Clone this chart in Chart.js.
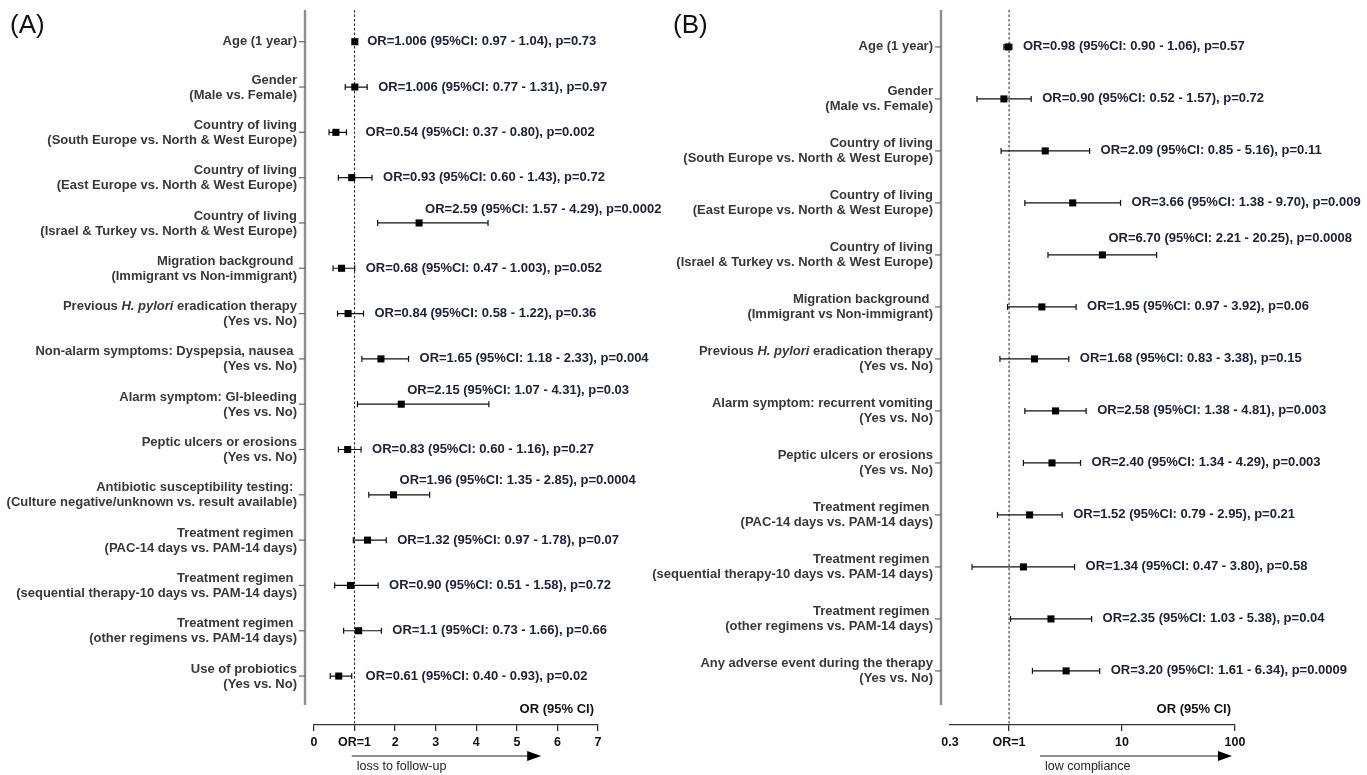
<!DOCTYPE html>
<html>
<head>
<meta charset="utf-8">
<script src="https://cdn.jsdelivr.net/npm/chart.js@4.4.0/dist/chart.umd.min.js"></script>
<style>
    html, body { margin: 0; padding: 0; background: #fff; }
    #wrapA { position: absolute; left: 0; top: 0; width: 670px; height: 775px; }
    #wrapB { position: absolute; left: 640px; top: 0; width: 727px; height: 775px; }
</style>
</head>
<body>
<div id="wrapA"><canvas id="chartA"></canvas></div>
<div id="wrapB"><canvas id="chartB"></canvas></div>
<script>
// ---- panel A: loss to follow-up ----
const labelsA = [
    ["Age (1 year)"],
    ["Gender", "(Male vs. Female)"],
    ["Country of living", "(South Europe vs. North & West Europe)"],
    ["Country of living", "(East Europe vs. North & West Europe)"],
    ["Country of living", "(Israel & Turkey vs. North & West Europe)"],
    ["Migration background ", "(Immigrant vs Non-immigrant)"],
    ["Previous *H. pylori* eradication therapy", "(Yes vs. No)"],
    ["Non-alarm symptoms: Dyspepsia, nausea ", "(Yes vs. No)"],
    ["Alarm symptom: GI-bleeding", "(Yes vs. No)"],
    ["Peptic ulcers or erosions", "(Yes vs. No)"],
    ["Antibiotic susceptibility testing: ", "(Culture negative/unknown vs. result available)"],
    ["Treatment regimen ", "(PAC-14 days vs. PAM-14 days)"],
    ["Treatment regimen ", "(sequential therapy-10 days vs. PAM-14 days)"],
    ["Treatment regimen ", "(other regimens vs. PAM-14 days)"],
    ["Use of probiotics", "(Yes vs. No)"],
];
const orA = ["1.006", "1.006", "0.54", "0.93", "2.59", "0.68", "0.84", "1.65", "2.15", "0.83", "1.96", "1.32", "0.90", "1.1", "0.61"];
const loA = ["0.97", "0.77", "0.37", "0.60", "1.57", "0.47", "0.58", "1.18", "1.07", "0.60", "1.35", "0.97", "0.51", "0.73", "0.40"];
const hiA = ["1.04", "1.31", "0.80", "1.43", "4.29", "1.003", "1.22", "2.33", "4.31", "1.16", "2.85", "1.78", "1.58", "1.66", "0.93"];
const pA = ["0.73", "0.97", "0.002", "0.72", "0.0002", "0.052", "0.36", "0.004", "0.03", "0.27", "0.0004", "0.07", "0.72", "0.66", "0.02"];
const aboveA = [4, 8, 10];
const xTicksA = [0, 1, 2, 3, 4, 5, 6, 7];

// ---- panel B: low compliance ----
const labelsB = [
    ["Age (1 year)"],
    ["Gender", "(Male vs. Female)"],
    ["Country of living", "(South Europe vs. North & West Europe)"],
    ["Country of living", "(East Europe vs. North & West Europe)"],
    ["Country of living", "(Israel & Turkey vs. North & West Europe)"],
    ["Migration background ", "(Immigrant vs Non-immigrant)"],
    ["Previous *H. pylori* eradication therapy", "(Yes vs. No)"],
    ["Alarm symptom: recurrent vomiting", "(Yes vs. No)"],
    ["Peptic ulcers or erosions", "(Yes vs. No)"],
    ["Treatment regimen ", "(PAC-14 days vs. PAM-14 days)"],
    ["Treatment regimen ", "(sequential therapy-10 days vs. PAM-14 days)"],
    ["Treatment regimen ", "(other regimens vs. PAM-14 days)"],
    ["Any adverse event during the therapy", "(Yes vs. No)"],
];
const orB = ["0.98", "0.90", "2.09", "3.66", "6.70", "1.95", "1.68", "2.58", "2.40", "1.52", "1.34", "2.35", "3.20"];
const loB = ["0.90", "0.52", "0.85", "1.38", "2.21", "0.97", "0.83", "1.38", "1.34", "0.79", "0.47", "1.03", "1.61"];
const hiB = ["1.06", "1.57", "5.16", "9.70", "20.25", "3.92", "3.38", "4.81", "4.29", "2.95", "3.80", "5.38", "6.34"];
const pB = ["0.57", "0.72", "0.11", "0.009", "0.0008", "0.06", "0.15", "0.003", "0.003", "0.21", "0.58", "0.04", "0.0009"];
const aboveB = [4];
const xTicksB = [0.3, 1, 10, 100];

const FONT = "'Liberation Sans', Arial, Helvetica, sans-serif";
const INK = "#111";
const NOTE = "#20213f";
const LABEL = "#383838";


function buildDatasets(or, lo, hi) {
    // one broken line for all confidence intervals, split by null points
    const bars = [];
    or.forEach((v, i) => {
        bars.push({ x: +lo[i], y: i }, { x: +hi[i], y: i }, { x: +hi[i], y: null });
    });
    const caps = lo.map((v, i) => ({ x: +v, y: i })).concat(hi.map((v, i) => ({ x: +v, y: i })));
    return [
        {
            label: "95% CI",
            data: bars,
            showLine: true,
            spanGaps: false,
            borderColor: INK,
            borderWidth: 1.2,
            pointRadius: 0,
            order: 3,
        },
        {
            label: "caps",
            data: caps,
            pointStyle: "line",
            rotation: 90,
            pointRadius: 3,
            borderColor: INK,
            borderWidth: 1.2,
            order: 2,
        },
        {
            label: "OR",
            data: or.map((v, i) => ({ x: +v, y: i })),
            pointStyle: "rect",
            pointRadius: 5,
            backgroundColor: "#000",
            borderColor: "#000",
            borderWidth: 0,
            order: 1,
        },
    ];
}

function drawRich(ctx, text, right, y, size) {
    // "*...*" marks italic parts
    const parts = text.split("*");
    const fonts = parts.map((_, k) => (k % 2 ? "italic bold " : "bold ") + size + "px " + FONT);
    let total = 0;
    parts.forEach((p, k) => { ctx.font = fonts[k]; total += ctx.measureText(p).width; });
    let x = right - total;
    ctx.textAlign = "left";
    parts.forEach((p, k) => {
        ctx.font = fonts[k];
        ctx.fillText(p, x, y);
        x += ctx.measureText(p).width;
    });
}

const forestPlugin = {
    id: "forest",
    beforeDatasetsDraw(chart) {
        const { ctx, chartArea } = chart;
        const x1 = chart.scales.x.getPixelForValue(1);
        ctx.save();
        ctx.strokeStyle = "#222";
        ctx.lineWidth = 1;
        ctx.setLineDash([2.5, 2]);
        ctx.beginPath();
        ctx.moveTo(x1, chartArea.top);
        ctx.lineTo(x1, chartArea.bottom);
        ctx.stroke();
        ctx.restore();
    },
    afterDraw(chart, args, opts) {
        const { ctx, chartArea } = chart;
        const xs = chart.scales.x;
        const ys = chart.scales.y;
        const axisX = chartArea.left - 9;
        ctx.save();

        // y axis line and ticks
        ctx.strokeStyle = "#8e8e8e";
        ctx.lineWidth = 2.4;
        ctx.beginPath();
        ctx.moveTo(axisX, chartArea.top);
        ctx.lineTo(axisX, chartArea.bottom - 20);
        ctx.stroke();

        ctx.textBaseline = "middle";
        opts.labels.forEach((lines, i) => {
            const y = ys.getPixelForValue(i);
            ctx.strokeStyle = "#666";
            ctx.lineWidth = 1.2;
            ctx.beginPath();
            ctx.moveTo(axisX - 6, y);
            ctx.lineTo(axisX, y);
            ctx.stroke();

            ctx.fillStyle = LABEL;
            if (lines.length === 1) {
                drawRich(ctx, lines[0], axisX - 8, y, 13);
            } else {
                drawRich(ctx, lines[0], axisX - 8, y - 7, 13);
                drawRich(ctx, lines[1], axisX - 8, y + 8, 13);
            }
        });

        // OR annotations
        ctx.font = "bold 13px " + FONT;
        ctx.fillStyle = NOTE;
        ctx.textAlign = "left";
        opts.or.forEach((v, i) => {
            const text = "OR=" + v + " (95%CI: " + opts.lo[i] + " - " + opts.hi[i] + "), p=" + opts.p[i];
            const y = ys.getPixelForValue(i);
            if (opts.above.includes(i)) {
                ctx.fillText(text, xs.getPixelForValue(+v) + 6, y - opts.aboveGap);
            } else {
                ctx.fillText(text, xs.getPixelForValue(Math.max(+opts.hi[i], 1)) + 11, y);
            }
        });

        // axis caption
        ctx.fillStyle = INK;
        ctx.textAlign = "right";
        ctx.fillText("OR (95% CI)", chartArea.right - 4, chartArea.bottom - 16);

        // direction arrow
        const ay = chartArea.bottom + 31;
        const a0 = xs.getPixelForValue(opts.arrow[0]);
        const a1 = xs.getPixelForValue(opts.arrow[1]);
        ctx.strokeStyle = "#222";
        ctx.lineWidth = 1.2;
        ctx.beginPath();
        ctx.moveTo(a0, ay);
        ctx.lineTo(a1 - 12, ay);
        ctx.stroke();
        ctx.fillStyle = "#000";
        ctx.beginPath();
        ctx.moveTo(a1, ay);
        ctx.lineTo(a1 - 14, ay - 5);
        ctx.lineTo(a1 - 14, ay + 5);
        ctx.closePath();
        ctx.fill();
        ctx.fillStyle = "#222";
        ctx.textAlign = "left";
        ctx.font = "12.5px " + FONT;
        ctx.fillText(opts.arrowText, a0 + 5, chartArea.bottom + 42);

        // panel letter
        ctx.fillStyle = "#111";
        ctx.font = "26px " + FONT;
        ctx.fillText(opts.letter, opts.letterX, 26);

        ctx.restore();
    },
};

function xAxis(type, min, max, tickValues) {
    return {
        type: type,
        min: min,
        max: max,
        afterBuildTicks: (scale) => { scale.ticks = tickValues.map((v) => ({ value: v })); },
        afterFit: (scale) => { scale.height = 50; },
        grid: {
            drawOnChartArea: false,
            drawTicks: true,
            tickLength: 6,
            lineWidth: 1.3,
            color: (c) => (c.tick && c.tick.value === 0.3 ? "rgba(0,0,0,0)" : "#333"),
        },
        border: { display: true, color: "#333", width: 1.3 },
        ticks: {
            autoSkip: false,
            maxRotation: 0,
            padding: 4,
            color: INK,
            font: { family: FONT, size: 12.5, weight: "bold" },
            callback: (v) => (v === 1 ? "OR=1" : String(v)),
        },
    };
}

function makeChart(id, cfg) {
    return new Chart(document.getElementById(id), {
        type: "scatter",
        data: { datasets: buildDatasets(cfg.or, cfg.lo, cfg.hi) },
        options: {
            responsive: true,
            maintainAspectRatio: false,
            animation: false,
            events: [],
            layout: { padding: cfg.padding },
            plugins: {
                legend: { display: false },
                tooltip: { enabled: false },
                forest: cfg,
            },
            scales: {
                x: cfg.x,
                y: { type: "linear", display: false, reverse: true, min: cfg.yMin, max: cfg.yMax },
            },
        },
        plugins: [forestPlugin],
    });
}

makeChart("chartA", {
    labels: labelsA, or: orA, lo: loA, hi: hiA, p: pA, above: aboveA, aboveGap: 14,
    x: xAxis("linear", 0, 7, xTicksA),
    yMin: -0.7, yMax: 15.08,
    padding: { left: 314, right: 72, top: 10, bottom: 0 },
    arrow: [0.93, 5.6], arrowText: "loss to follow-up",
    letter: "(A)", letterX: 10,
});

makeChart("chartB", {
    labels: labelsB, or: orB, lo: loB, hi: hiB, p: pB, above: aboveB, aboveGap: 16,
    x: xAxis("logarithmic", 0.3, 100, xTicksB),
    yMin: -0.71, yMax: 13.04,
    padding: { left: 310, right: 132, top: 10, bottom: 0 },
    arrow: [1.88, 94], arrowText: "low compliance",
    letter: "(B)", letterX: 33,
});
</script>
</body>
</html>
